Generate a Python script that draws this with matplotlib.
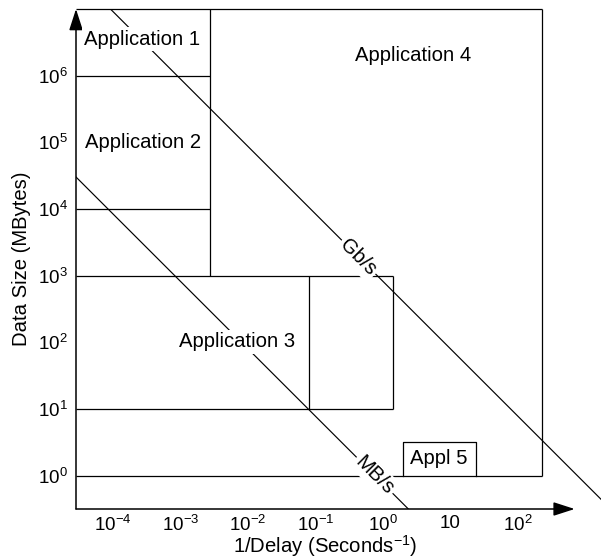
import matplotlib
matplotlib.use('Agg')
import matplotlib.pyplot as plt

# フォント設定（Arial 相当）
plt.rcParams['font.family'] = ['Liberation Sans', 'DejaVu Sans']
plt.rcParams['mathtext.fontset'] = 'custom'
plt.rcParams['mathtext.rm'] = 'Liberation Sans'
plt.rcParams['mathtext.it'] = 'Liberation Sans:italic'
plt.rcParams['mathtext.bf'] = 'Liberation Sans:bold'

# ===== 設定パラメータ =====
FONT_SIZE_TEXT = 14.6
FONT_SIZE_TICK = 13.5
LINE_W = 0.9
DIAG_W = 0.85
AXIS_W = 1.1

# 軸範囲（log10 の端）
X_RANGE = [10**-4.55, 10**3.23]
Y_RANGE = [10**-0.5, 10**7]
X_ARROW_END = 10**2.84

X_TICKS = [1e-4, 1e-3, 1e-2, 1e-1, 1e0, 1e1, 1e2]
X_TICK_LABELS = [r'$10^{-4}$', r'$10^{-3}$', r'$10^{-2}$', r'$10^{-1}$',
                 r'$10^{0}$', '10', r'$10^{2}$']
Y_TICKS = [1e0, 1e1, 1e2, 1e3, 1e4, 1e5, 1e6]
Y_TICK_LABELS = [r'$10^{0}$', r'$10^{1}$', r'$10^{2}$', r'$10^{3}$',
                 r'$10^{4}$', r'$10^{5}$', r'$10^{6}$']

# アプリケーション領域の境界
APP12_X_MAX = 2.7e-3
APP12_Y_LEVELS = [1e3, 1e4, 1e6, 1e7]
APP3_X_SPLIT = 0.081
APP3_X_MAX = 1.4
APP3_Y = [1e1, 1e3]
APP4_X_MAX = 230
APP4_Y = [1e0, 1e7]
APP5_X = [1.95, 24]
APP5_Y = [1e0, 3.16]

# 一定レートの直線
GBS_X = [10**-4.04, 10**3.24]
GBS_Y = [1e7, 10**-0.364]
MBS_X = [10**-4.55, 10**0.375]
MBS_Y = [10**4.48, 10**-0.5]
# =========================

fig = plt.figure(figsize=(6.01, 5.60), dpi=100)
ax = fig.add_axes([76 / 601, 51 / 560, 525 / 601, 500 / 560])
ax.set_xscale('log')
ax.set_yscale('log')
ax.set_xlim(*X_RANGE)
ax.set_ylim(*Y_RANGE)

line_kw = dict(color='black', linewidth=LINE_W, clip_on=False)

# Application 1 / 2 の列
ax.hlines(APP12_Y_LEVELS[1:3], X_RANGE[0], APP12_X_MAX, **line_kw)
ax.vlines(APP12_X_MAX, APP12_Y_LEVELS[0], APP12_Y_LEVELS[-1], **line_kw)

# Application 4 の大枠
ax.hlines(APP4_Y, X_RANGE[0], APP4_X_MAX, **line_kw)
ax.vlines(APP4_X_MAX, APP4_Y[0], APP4_Y[1], **line_kw)

# Application 3
ax.hlines(APP3_Y, X_RANGE[0], APP3_X_MAX, **line_kw)
ax.vlines([APP3_X_SPLIT, APP3_X_MAX], APP3_Y[0], APP3_Y[1], **line_kw)

# Appl 5 の小箱
ax.plot([APP5_X[0], APP5_X[0], APP5_X[1], APP5_X[1]],
        [APP5_Y[0], APP5_Y[1], APP5_Y[1], APP5_Y[0]], **line_kw)

# Gb/s, MB/s の線
ax.plot(GBS_X, GBS_Y, color='black', linewidth=DIAG_W)
ax.plot(MBS_X, MBS_Y, color='black', linewidth=DIAG_W)

# 軸（矢印つき）
for spine in ax.spines.values():
    spine.set_visible(False)
arrow_kw = dict(arrowstyle='-|>,head_length=0.65,head_width=0.21',
                mutation_scale=20, lw=AXIS_W, color='black',
                shrinkA=0, shrinkB=0)
ax.annotate('', xy=(X_ARROW_END, Y_RANGE[0]), xytext=(X_RANGE[0], Y_RANGE[0]),
            arrowprops=arrow_kw, annotation_clip=False)
ax.annotate('', xy=(X_RANGE[0], Y_RANGE[1]), xytext=(X_RANGE[0], Y_RANGE[0]),
            arrowprops=arrow_kw, annotation_clip=False)

# 目盛り
ax.minorticks_off()
ax.set_xticks(X_TICKS, X_TICK_LABELS)
ax.set_yticks(Y_TICKS, Y_TICK_LABELS)
ax.tick_params(axis='both', length=0, labelsize=FONT_SIZE_TICK)
ax.tick_params(axis='x', pad=4)
ax.tick_params(axis='y', pad=6)

# 領域ラベル
white = dict(boxstyle='square,pad=0.12', facecolor='white', edgecolor='none')
txt_kw = dict(fontsize=FONT_SIZE_TEXT, ha='center', va='center', zorder=5)
ax.text(10**-3.57, 10**6.545, 'Application 1', bbox=white, **txt_kw)
ax.text(10**-3.563, 10**4.99, 'Application 2', **txt_kw)
ax.text(10**-2.163, 10**2.01, 'Application 3', bbox=white, **txt_kw)
ax.text(10**0.44, 10**6.307, 'Application 4', **txt_kw)
ax.text(10**0.83, 10**0.25, 'Appl 5', **txt_kw)
ax.text(10**-0.37, 10**3.27, 'Gb/s', rotation=-45, rotation_mode='anchor',
        bbox=white, **txt_kw)
ax.text(10**-0.12, 10**0.01, 'MB/s', rotation=-45, rotation_mode='anchor',
        bbox=white, **txt_kw)

# 軸ラベル
ax.set_xlabel('1/Delay (Seconds$^{-1}$)', fontsize=FONT_SIZE_TEXT)
ax.xaxis.set_label_coords(0.474, -0.075)
ax.xaxis.label.set_verticalalignment('center')
ax.set_ylabel('Data Size (MBytes)', fontsize=FONT_SIZE_TEXT)
ax.yaxis.set_label_coords(-0.103, 0.5)
ax.yaxis.label.set_verticalalignment('center')

plt.savefig('out.png', dpi=100)
